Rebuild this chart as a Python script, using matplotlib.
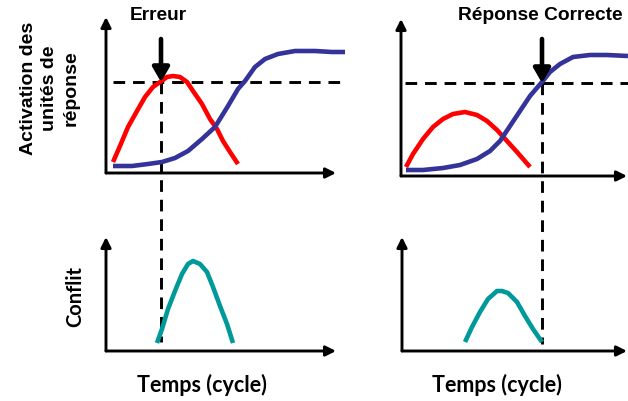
import matplotlib.pyplot as plt

# Police proche d'Arial / Calibri
plt.rcParams["font.family"] = ["Liberation Sans", "DejaVu Sans"]

# Courbes (coordonnées en pixels, y vers le bas)
rouge_g_x = [113, 120, 128, 137, 145, 153, 160, 167, 173, 180, 187, 193, 202, 210, 217, 223, 230, 238]
rouge_g_y = [163, 147, 128, 112, 98, 88, 83, 78, 77, 78, 83, 92, 105, 120, 130, 142, 153, 165]
bleu_g_x = [113, 132, 148, 162, 175, 188, 202, 215, 228, 238, 245, 255, 265, 278, 295, 315, 332, 345]
bleu_g_y = [167, 167, 165, 163, 159, 152, 140, 128, 107, 90, 82, 68, 60, 55, 52, 52, 53, 53]

rouge_d_x = [406, 413, 423, 433, 443, 453, 465, 477, 487, 497, 507, 517, 530]
rouge_d_y = [168, 155, 140, 128, 120, 115, 113, 116, 122, 131, 142, 153, 168]
bleu_d_x = [406, 423, 443, 460, 477, 490, 500, 510, 520, 530, 542, 550, 560, 573, 590, 607, 628]
bleu_d_y = [171, 171, 169, 166, 160, 152, 142, 127, 112, 97, 83, 73, 65, 58, 56, 56, 57]

conflit_g_x = [157, 162, 168, 175, 182, 188, 193, 200, 207, 213, 220, 227, 233]
conflit_g_y = [344, 330, 310, 292, 275, 265, 262, 265, 273, 288, 307, 325, 344]
conflit_d_x = [465, 472, 480, 488, 497, 502, 508, 517, 525, 533, 542]
conflit_d_y = [343, 328, 313, 300, 292, 292, 294, 303, 317, 330, 343]

# origine des axes (x0, y_bas, y_haut, x_fin)
axes_haut = [(106, 174, 18, 336), (401, 177, 20, 627)]
axes_bas = [(106, 352, 238, 336), (402, 352, 238, 627)]
seuil = [(113, 342, 83), (405, 628, 84)]
reponse = [(161, 83, 343, "Erreur", 158), (542, 84, 345, "Réponse Correcte", 540)]

fig = plt.figure(figsize=(6.28, 4.02), dpi=100)
ax = fig.add_axes([0, 0, 1, 1])
ax.set_xlim(0, 628)
ax.set_ylim(402, 0)
ax.axis("off")

tirets = (0, (4, 2.7))


def fleche(x0, y0, x1, y1, lw=2.1, ms=12, style="-|>,head_length=0.5,head_width=0.25"):
    ax.annotate("", xy=(x1, y1), xytext=(x0, y0),
                arrowprops=dict(arrowstyle=style, lw=lw, color="black",
                                shrinkA=0, shrinkB=0, mutation_scale=ms))


for x0, yb, yh, xf in axes_haut + axes_bas:
    fleche(x0, yb, x0, yh)
    fleche(x0, yb, xf, yb)

# seuils et lignes verticales
for xa, xb, y in seuil:
    ax.plot([xa, xb], [y, y], color="black", lw=2.1, ls=tirets)
for x, y0, y1, titre, xt in reponse:
    ax.plot([x, x], [y0, y1], color="black", lw=2.1, ls=tirets)
    fleche(x, 40, x, y0, lw=3.3, ms=20,
           style="-|>,head_length=0.43,head_width=0.25")
    ax.text(xt, 16, titre, ha="center", va="center", fontsize=13.8,
            fontweight="bold")

courbes = [
    (rouge_g_x, rouge_g_y, "#ff0000"),
    (bleu_g_x, bleu_g_y, "#333399"),
    (rouge_d_x, rouge_d_y, "#ff0000"),
    (bleu_d_x, bleu_d_y, "#333399"),
    (conflit_g_x, conflit_g_y, "#009999"),
    (conflit_d_x, conflit_d_y, "#009999"),
]
for xs, ys, c in courbes:
    ax.plot(xs, ys, color=c, lw=3.3, solid_capstyle="butt", solid_joinstyle="round")

ax.text(50, 88, "Activation des\nunités de\nréponse", rotation=90,
        ha="center", va="center", fontsize=14, fontweight="bold",
        linespacing=1.35, multialignment="center")
ax.text(75, 297, "Conflit", rotation=90, ha="center", va="center",
        fontsize=14.5, fontweight="bold", family=["Lato", "DejaVu Sans"])
for xt in [202, 497]:
    ax.text(xt, 385, "Temps (cycle)", ha="center", va="center",
            fontsize=15.5, fontweight="bold", family=["Lato", "DejaVu Sans"])

fig.savefig("out.png", dpi=100)
